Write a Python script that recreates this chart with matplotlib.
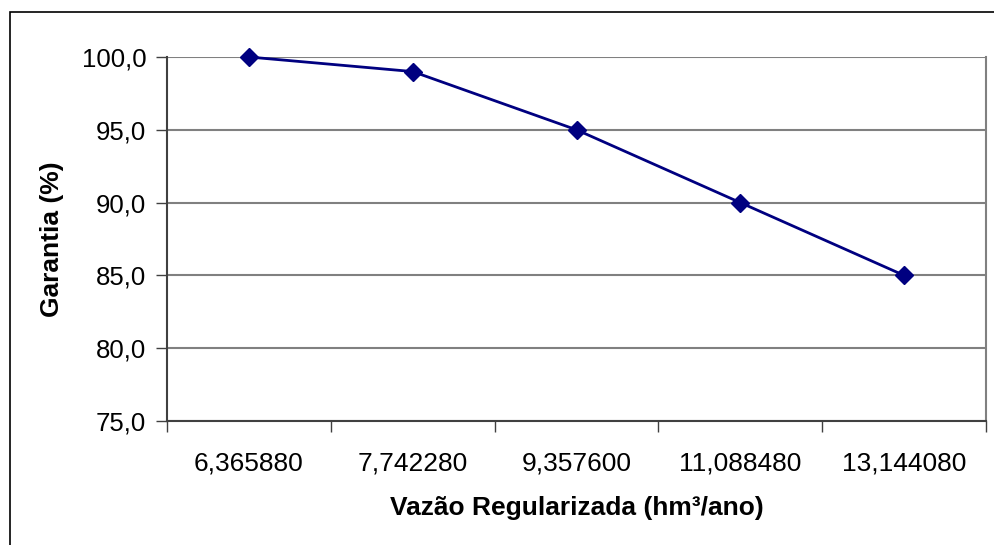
import matplotlib
matplotlib.use("Agg")
import matplotlib.pyplot as plt
from matplotlib.patches import Rectangle

# data
vazao_labels = ["6,365880", "7,742280", "9,357600", "11,088480", "13,144080"]
garantia = [100.0, 99.0, 95.0, 90.0, 85.0]
y_ticks = [75.0, 80.0, 85.0, 90.0, 95.0, 100.0]

plt.rcParams["font.family"] = ["Liberation Sans", "DejaVu Sans"]

fig = plt.figure(figsize=(9.94, 5.45), dpi=100)
ax = fig.add_axes([167 / 994, 1 - 421 / 545, (986 - 167) / 994, (421 - 57) / 545])

# outer chart border (clipped at right/bottom like the original)
fig.patches.append(Rectangle((10 / 994, -0.1), 1.2, 1.1 - 12 / 545,
                             transform=fig.transFigure, fill=False,
                             edgecolor="black", linewidth=1.2))

x = [i + 0.5 for i in range(len(garantia))]
ax.plot(x, garantia, color="#000080", linewidth=2.0, marker="D",
        markersize=9, markerfacecolor="#000080", markeredgecolor="#000080",
        zorder=3, clip_on=False)

ax.set_xlim(0, len(garantia))
ax.set_ylim(75, 100)
ax.set_yticks(y_ticks)
ax.set_yticklabels(["{:.1f}".format(v).replace(".", ",") for v in y_ticks])
ax.set_xticks(range(len(garantia) + 1))
ax.set_xticklabels([])
ax.set_xticks(x, minor=True)
ax.set_xticklabels(vazao_labels, minor=True)
ax.tick_params(axis="x", which="minor", length=0, pad=22, labelsize=19)
ax.tick_params(axis="x", which="major", length=8, width=1, color="#404040", direction="out")
ax.tick_params(axis="y", length=8, width=1, color="#404040", pad=7, labelsize=18.5)

ax.yaxis.grid(True, color="#808080", linewidth=1.5)
ax.set_axisbelow(True)

for side in ["left", "bottom"]:
    ax.spines[side].set_color("#404040")
    ax.spines[side].set_linewidth(1.5)
ax.spines["right"].set_color("#808080")
ax.spines["right"].set_linewidth(1.5)
ax.spines["top"].set_visible(False)

ax.set_xlabel("Vazão Regularizada (hm³/ano)", fontsize=19, fontweight="bold")
ax.set_ylabel("Garantia (%)", fontsize=19, fontweight="bold")
ax.xaxis.set_label_coords(0.5, -(508 - 421) / 364, transform=ax.transAxes)
ax.yaxis.set_label_coords(-(167 - 52) / 819, 0.5, transform=ax.transAxes)
ax.xaxis.label.set_va("center")
ax.yaxis.label.set_va("center")

fig.savefig("out.png", dpi=100)
